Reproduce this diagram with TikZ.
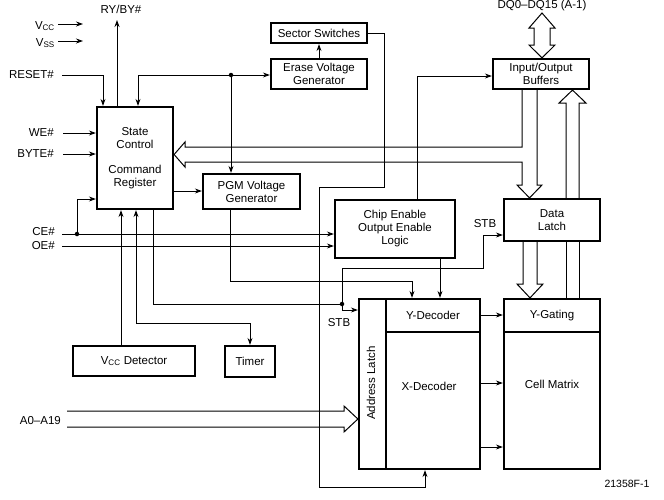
\documentclass[tikz,border=0pt]{standalone}
\usepackage{fontspec}
\setmainfont{Liberation Sans}
\usetikzlibrary{arrows.meta}
\begin{document}
\begin{tikzpicture}[x=1pt,y=-1pt,
 every node/.style={font=\fontsize{11.5}{13}\selectfont},
 box/.style={draw, line width=2.2pt, inner sep=0pt, align=center, fill=white},
 wire/.style={line width=1pt},
 arr/.style={wire, -{Stealth[length=7pt,width=5pt]}},
 barr/.style={wire, {Stealth[length=7pt,width=5pt]}-{Stealth[length=7pt,width=5pt]}},
 bus/.style={line width=1pt, line join=miter},
 lbl/.style={inner sep=0pt},
 dot/.style={circle, fill, inner sep=0pt, minimum size=4.5pt}
]
\useasboundingbox (0,0) rectangle (664,499);

% boxes
\node[box, minimum width=96pt, minimum height=20pt] (ss) at (319,33) {Sector Switches};
\node[box, minimum width=96pt, minimum height=30pt] (evg) at (319,74) {Erase Voltage\\Generator};
\node[box, minimum width=96pt, minimum height=30pt] (io) at (541,74) {Input/Output\\Buffers};
\node[box, minimum width=76pt, minimum height=102pt] (sc) at (135,158) {State\\Control\\[12pt]Command\\Register};
\node[box, minimum width=97pt, minimum height=35pt] (pgm) at (251.5,191.5) {PGM Voltage\\Generator};
\node[box, minimum width=120pt, minimum height=58pt] (ce) at (395,229) {Chip Enable\\Output Enable\\Logic};
\node[box, minimum width=96pt, minimum height=42pt] (dl) at (552,220) {Data\\Latch};
\node[box, minimum width=27pt, minimum height=170pt] (al) at (372.5,384) {};
\node[lbl, rotate=90] (alt) at (371,383) {Address Latch};
\node[box, minimum width=94pt, minimum height=33pt] (yd) at (433,315.5) {Y-Decoder};
\node[box, minimum width=94pt, minimum height=137pt] (xd) at (433,400.5) {};
\node[lbl] (xdt) at (429,386) {X-Decoder};
\node[box, minimum width=96pt, minimum height=33pt] (yg) at (552,315.5) {Y-Gating};
\node[box, minimum width=96pt, minimum height=137pt] (cm) at (552,400.5) {};
\node[lbl] (cmt) at (552,384) {Cell Matrix};
\node[box, minimum width=122pt, minimum height=30pt] (vccd) at (134,361) {V\textsubscript{CC} Detector};
\node[box, minimum width=50pt, minimum height=31pt] (tm) at (250,361.5) {Timer};

% labels
\node[lbl, anchor=east] (vcc) at (55,26) {V\textsubscript{CC}};
\node[lbl, anchor=east] (vss) at (55,43) {V\textsubscript{SS}};
\node[lbl] (ry) at (121,9) {RY/BY\#};
\node[lbl, anchor=east] (rst) at (54,75) {RESET\#};
\node[lbl, anchor=east] (we) at (54,133) {WE\#};
\node[lbl, anchor=east] (byte) at (54,154) {BYTE\#};
\node[lbl, anchor=east] (cel) at (55,232) {CE\#};
\node[lbl, anchor=east] (oel) at (55,246) {OE\#};
\node[lbl, anchor=east] (abus) at (61,421) {A0--A19};
\node[lbl] (stb1) at (339,323) {STB};
\node[lbl] (stb2) at (485,224) {STB};
\node[lbl] (dq) at (542,6) {DQ0--DQ15 (A-1)};
\node[lbl, font=\fontsize{10.5}{12}\selectfont] (fig) at (627,484) {21358F-1};

% wires
\coordinate (vcce) at (83,24);
\coordinate (vsse) at (83,41);
\coordinate (rye) at (117,20);
\draw[arr] (58,24) -- (vcce);
\draw[arr] (58,41) -- (vsse);
\draw[arr] (sc.north -| 117,0) -- (rye);
\draw[arr] (62,75) -| (sc.north -| 103,0);
\draw[arr] (63,133) -- (sc.west |- 0,133);
\draw[arr] (63,154) -- (sc.west |- 0,154);
\draw[arr] (62,234) -- (ce.west |- 0,234);
\draw[arr] (62,246) -- (ce.west |- 0,246);
\node[dot] (d1) at (77,234) {};
\draw[arr] (d1.center) |- (sc.west |- 0,199);
\draw[arr] (sc.east |- 0,191) -- (pgm.west |- 0,191);
\draw[barr] (sc.north -| 138,0) |- (evg.west |- 0,75);
\node[dot] (d2) at (231,75) {};
\draw[arr] (d2.center) -- (pgm.north -| 231,0);
\draw[arr] (evg.north) -- (ss.south);
\draw[arr] (pgm.south -| 230,0) |- (412,281) -- (yd.north -| 412,0);
\draw[arr] (ce.south -| 440,0) -- (yd.north -| 440,0);
\draw[arr] (ce.north -| 417,0) |- (io.west |- 0,76);
\draw[arr] (ss.east |- 0,33) -- (384,33) -- (384,187) -- (319,187) -- (319,487) -| (xd.south -| 425,0);
\draw[barr] (sc.south -| 136,0) |- (250,323) -- (tm.north);
\draw[arr] (vccd.north -| 121,0) -- (sc.south -| 121,0);
\draw[wire] (sc.south -| 153,0) |- (342,304);
\node[dot] (d3) at (342,304) {};
\draw[arr] (342,268) -- (342,310) -- (al.west |- 0,310);
\draw[arr] (342,268) -- (483,268) -- (483,235) -- (dl.west |- 0,235);
\draw[arr] (yd.east |- 0,315) -- (yg.west |- 0,315);
\draw[arr] (xd.east |- 0,383) -- (cm.west |- 0,383);
\draw[arr] (xd.east |- 0,447) -- (cm.west |- 0,447);

% buses
\draw[bus] (io.south -| 522,0) -- (522,147) -- (185,147) -- (185,142) -- (sc.east |- 0,154.5) -- (185,167) -- (185,162) -- (522,162) -- (522,185) -- (517,185) -- (dl.north -| 529.5,0) -- (542,185) -- (537,185) -- (io.south -| 537,0);
\draw[bus] (dl.south -| 523,0) -- (523,284) -- (517,284) -- (yg.north -| 530,0) -- (543,284) -- (537,284) -- (dl.south -| 537,0);
\draw[bus] (yg.north -| 566,0) -- (dl.south -| 566,0);
\draw[bus] (yg.north -| 579,0) -- (dl.south -| 579,0);
\draw[bus] (dl.north -| 566,0) -- (566,103) -- (559,103) -- (io.south -| 572.5,0) -- (586,103) -- (579,103) -- (dl.north -| 579,0);
\draw[bus] (67,411) -- (344,411) -- (344,406) -- (al.west |- 0,419) -- (344,432) -- (344,427) -- (67,427);
\draw[bus] (534,28) -- (529,28) -- (542,13) -- (555,28) -- (550,28) -- (550,45) -- (555,45) -- (io.north -| 542,0) -- (529,45) -- (534,45) -- cycle;
\end{tikzpicture}
\end{document}
